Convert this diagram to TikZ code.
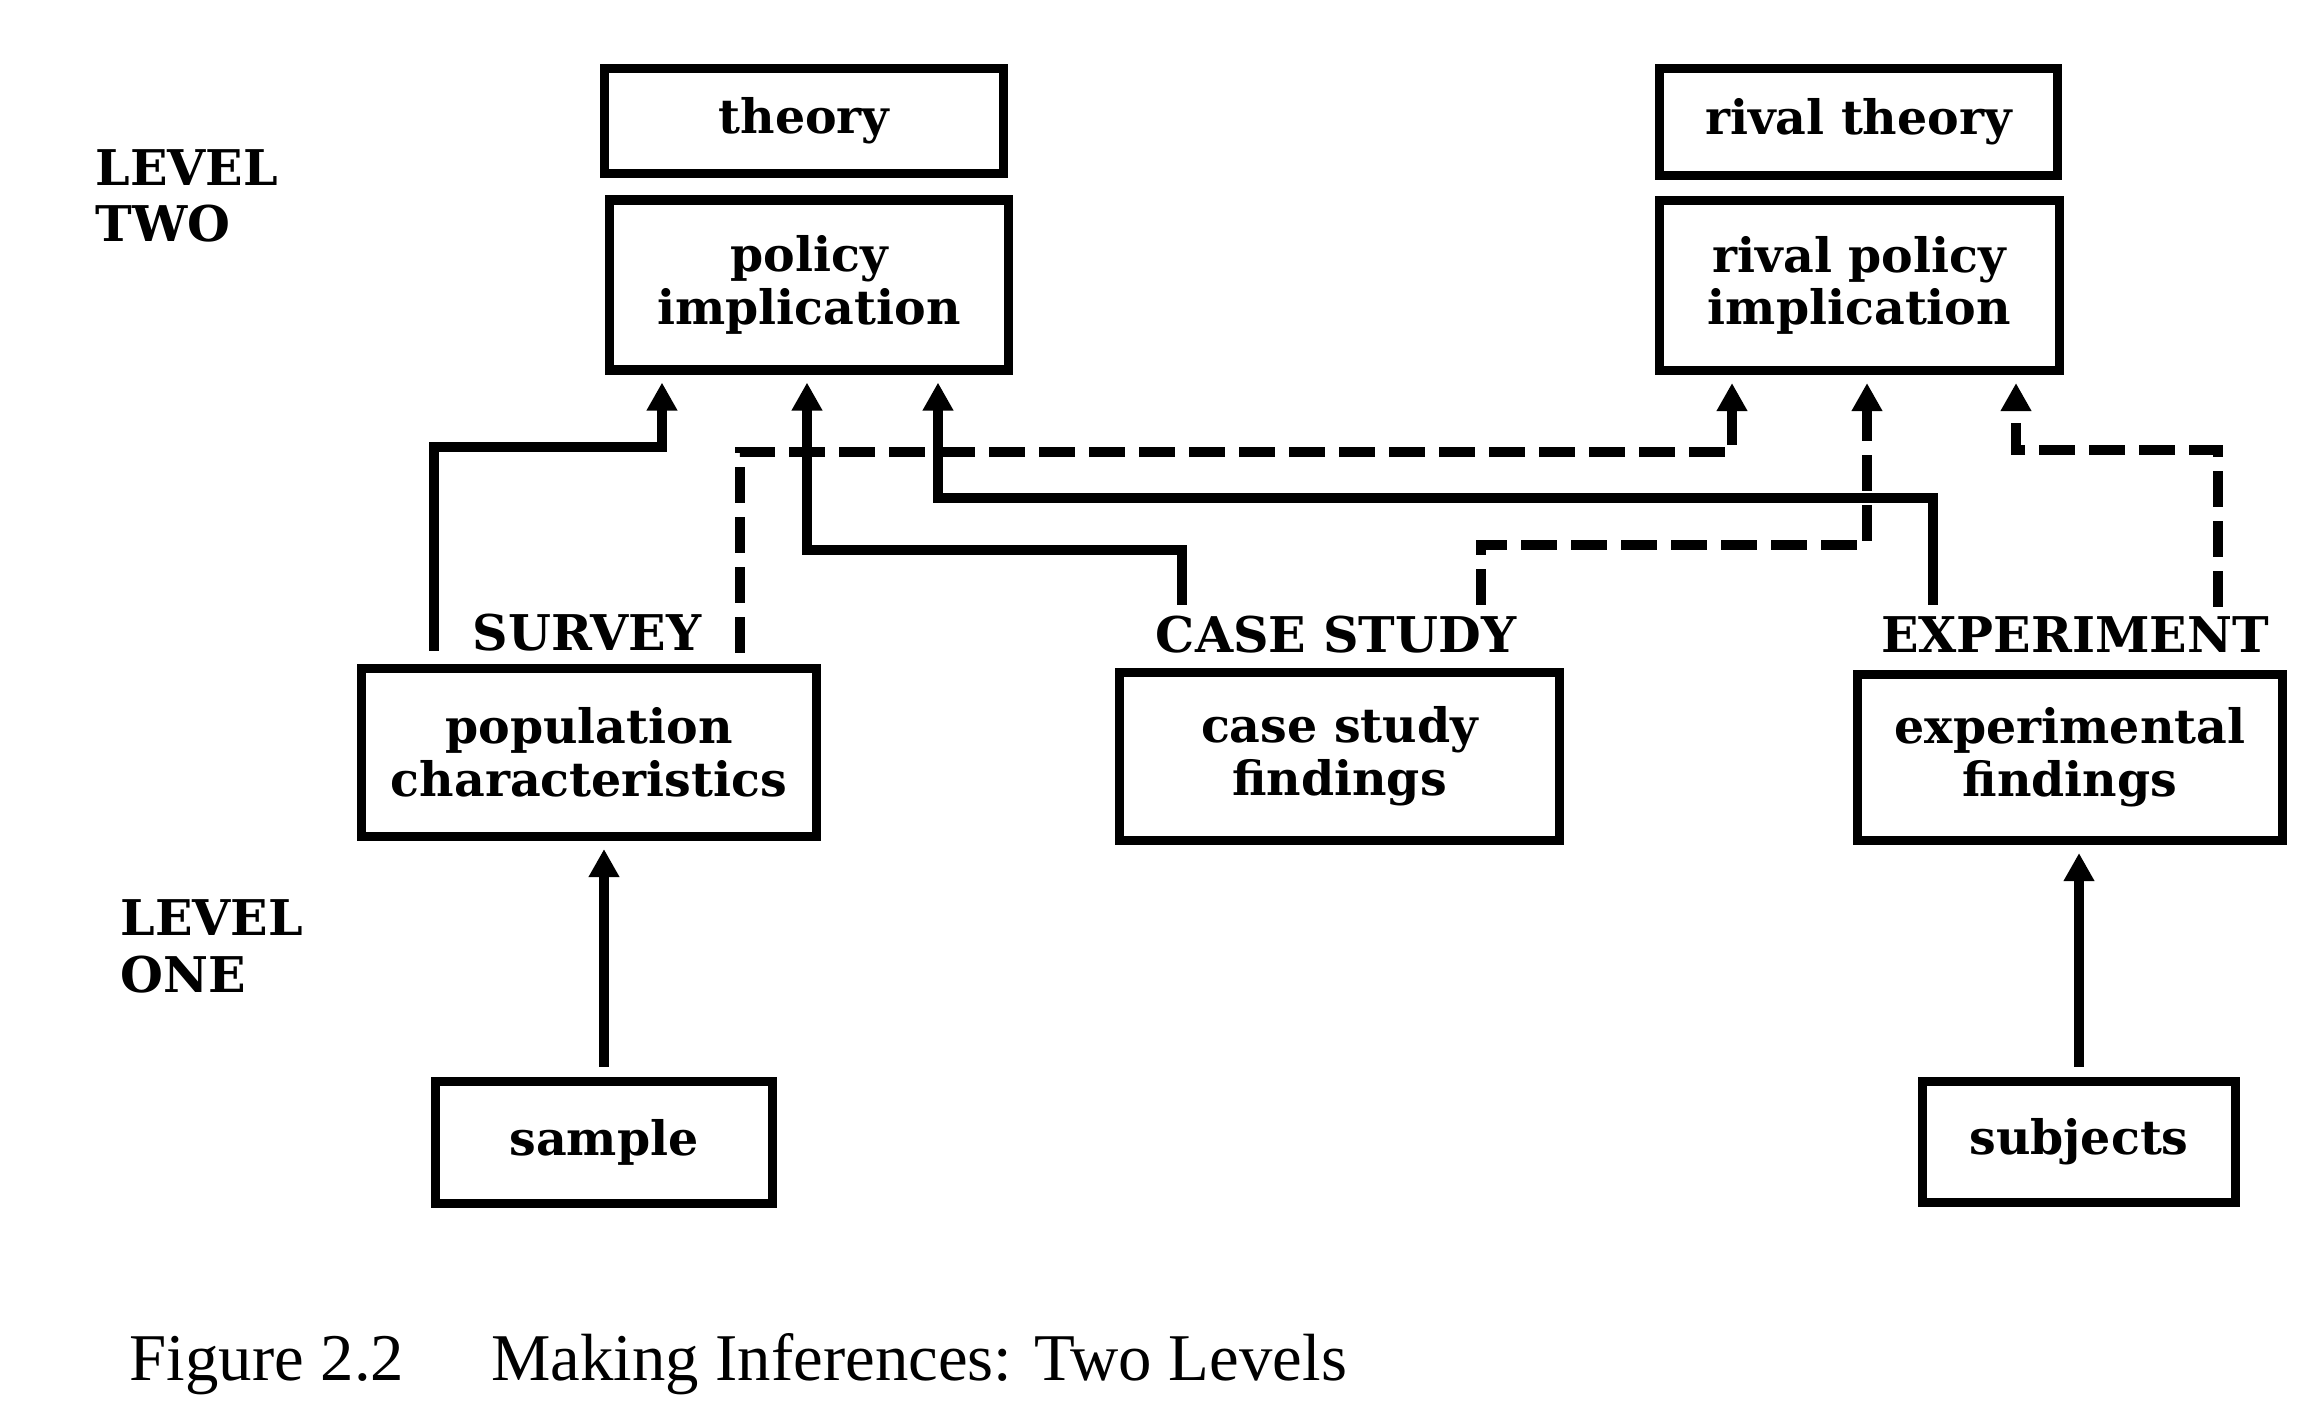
\documentclass[tikz,border=0pt]{standalone}
\usepackage{fontspec}
\setmainfont{DejaVu Serif}
\newfontfamily\capfont{Liberation Serif}
\usetikzlibrary{arrows.meta}

\begin{document}
\begin{tikzpicture}[>={Triangle[width=2.9mm,length=2.8mm]},
  box/.style={draw, line width=2.6pt, align=center, inner sep=2pt,
    font=\bfseries\fontsize{13.5}{15}\selectfont},
  lbl/.style={inner sep=0pt, font=\bfseries\fontsize{14}{16}\selectfont},
  conn/.style={->, line width=2.6pt, shorten >=0.8mm},
  dconn/.style={conn, dash pattern=on 3.6mm off 1.4mm}]
  \path[use as bounding box, fill=white] (0,0) rectangle (23.12,14.05);
  % level two: theories and their policy implications
  \node[lbl, align=left, anchor=west] (lvtwo) at (0.95,12.09) {LEVEL\\TWO};
  \node[box, minimum width=3.99cm, minimum height=1.05cm] (theory) at (8.04,12.84) {theory};
  \node[box, minimum width=3.99cm, minimum height=1.70cm] (policy) at (8.09,11.20) {policy\\implication};
  \node[box, minimum width=3.98cm, minimum height=1.07cm] (rtheory) at (18.585,12.83) {rival theory};
  \node[box, minimum width=4.00cm, minimum height=1.70cm] (rpolicy) at (18.595,11.195) {rival policy\\implication};
  % the three methods and their findings
  \node[lbl] (survey) at (5.87,7.72) {SURVEY};
  \node[lbl] (casestudy) at (13.36,7.70) {CASE STUDY};
  \node[lbl] (experiment) at (20.75,7.70) {EXPERIMENT};
  \node[box, minimum width=4.55cm, minimum height=1.68cm] (popchar) at (5.89,6.525) {population\\characteristics};
  \node[box, minimum width=4.40cm, minimum height=1.68cm] (csfind) at (13.395,6.485) {case study\\findings};
  \node[box, minimum width=4.25cm, minimum height=1.66cm] (expfind) at (20.70,6.475) {experimental\\findings};
  % level one: sample and subjects
  \node[lbl, align=left, anchor=west] (lvone) at (1.20,4.585) {LEVEL\\ONE};
  \node[box, minimum width=3.37cm, minimum height=1.22cm] (sample) at (6.04,2.625) {sample};
  \node[box, minimum width=3.13cm, minimum height=1.21cm] (subjects) at (20.79,2.63) {subjects};
  \draw[conn, shorten <=1mm] (sample.north) -- (sample.north |- popchar.south);
  \draw[conn, shorten <=1mm] (subjects.north) -- (subjects.north |- expfind.south);
  % inferences up to level two, solid to theory, dashed to rival
  \coordinate (sv1) at (4.34,7.54);
  \coordinate (sv2) at (7.40,7.52);
  \coordinate (cs1) at (11.82,8.00);
  \coordinate (cs2) at (14.81,8.00);
  \coordinate (ex1) at (19.33,8.00);
  \coordinate (ex2) at (22.18,7.98);
  \draw[conn] (sv1) -- ++(0,2.04) -| ([xshift=-14.7mm]policy.south);
  \draw[conn] (cs1) -- ++(0,0.55) -| ([xshift=-0.2mm]policy.south);
  \draw[conn] (ex1) -- ++(0,1.07) -| ([xshift=12.9mm]policy.south);
  \draw[dconn] (sv2) -- ++(0,2.01) -| ([xshift=-12.75mm]rpolicy.south);
  \draw[dconn] (cs2) -- ++(0,0.60) -| ([xshift=0.75mm]rpolicy.south);
  \draw[dconn] (ex2) -- ++(0,1.57) -| ([xshift=15.65mm]rpolicy.south);
  % caption
  \node[anchor=base west, inner sep=0pt, font=\capfont\fontsize{19}{22}\selectfont] (caption)
    at (1.29,0.25) {Figure 2.2\hspace{0.87cm}Making Inferences: Two Levels};
\end{tikzpicture}
\end{document}
